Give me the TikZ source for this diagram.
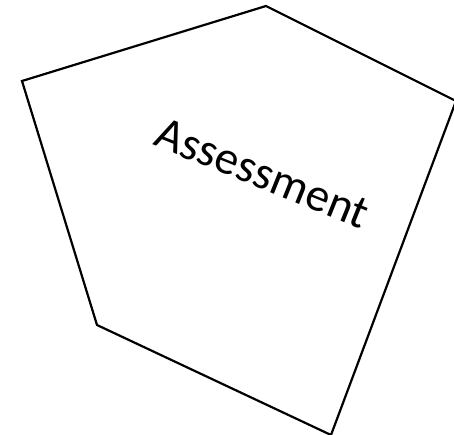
\documentclass[tikz,border=0pt]{standalone}
\usepackage{fontspec}
\setmainfont{Carlito}
\usepackage{tikz}

\begin{document}
\begin{tikzpicture}[
  x=1pt, y=-1pt,
  edge/.style  = {draw=black, line width=2.2pt, line join=miter},
  label/.style = {font=\fontsize{47}{50}\selectfont, rotate=-22,
                  anchor=base, inner sep=0pt},
]
  \useasboundingbox (0,0) rectangle (454,435);

  % Corners
  \coordinate (top)    at (266,6);
  \coordinate (right)  at (456,101);
  \coordinate (bottom) at (331,435);
  \coordinate (lower)  at (97,325);
  \coordinate (left)   at (22,81);

  % Outline
  \draw[edge] (top) -- (right) -- (bottom) -- (lower) -- (left) -- cycle;

  % Text
  \node[label] (title) at (257,187) {Assessment};
\end{tikzpicture}
\end{document}
